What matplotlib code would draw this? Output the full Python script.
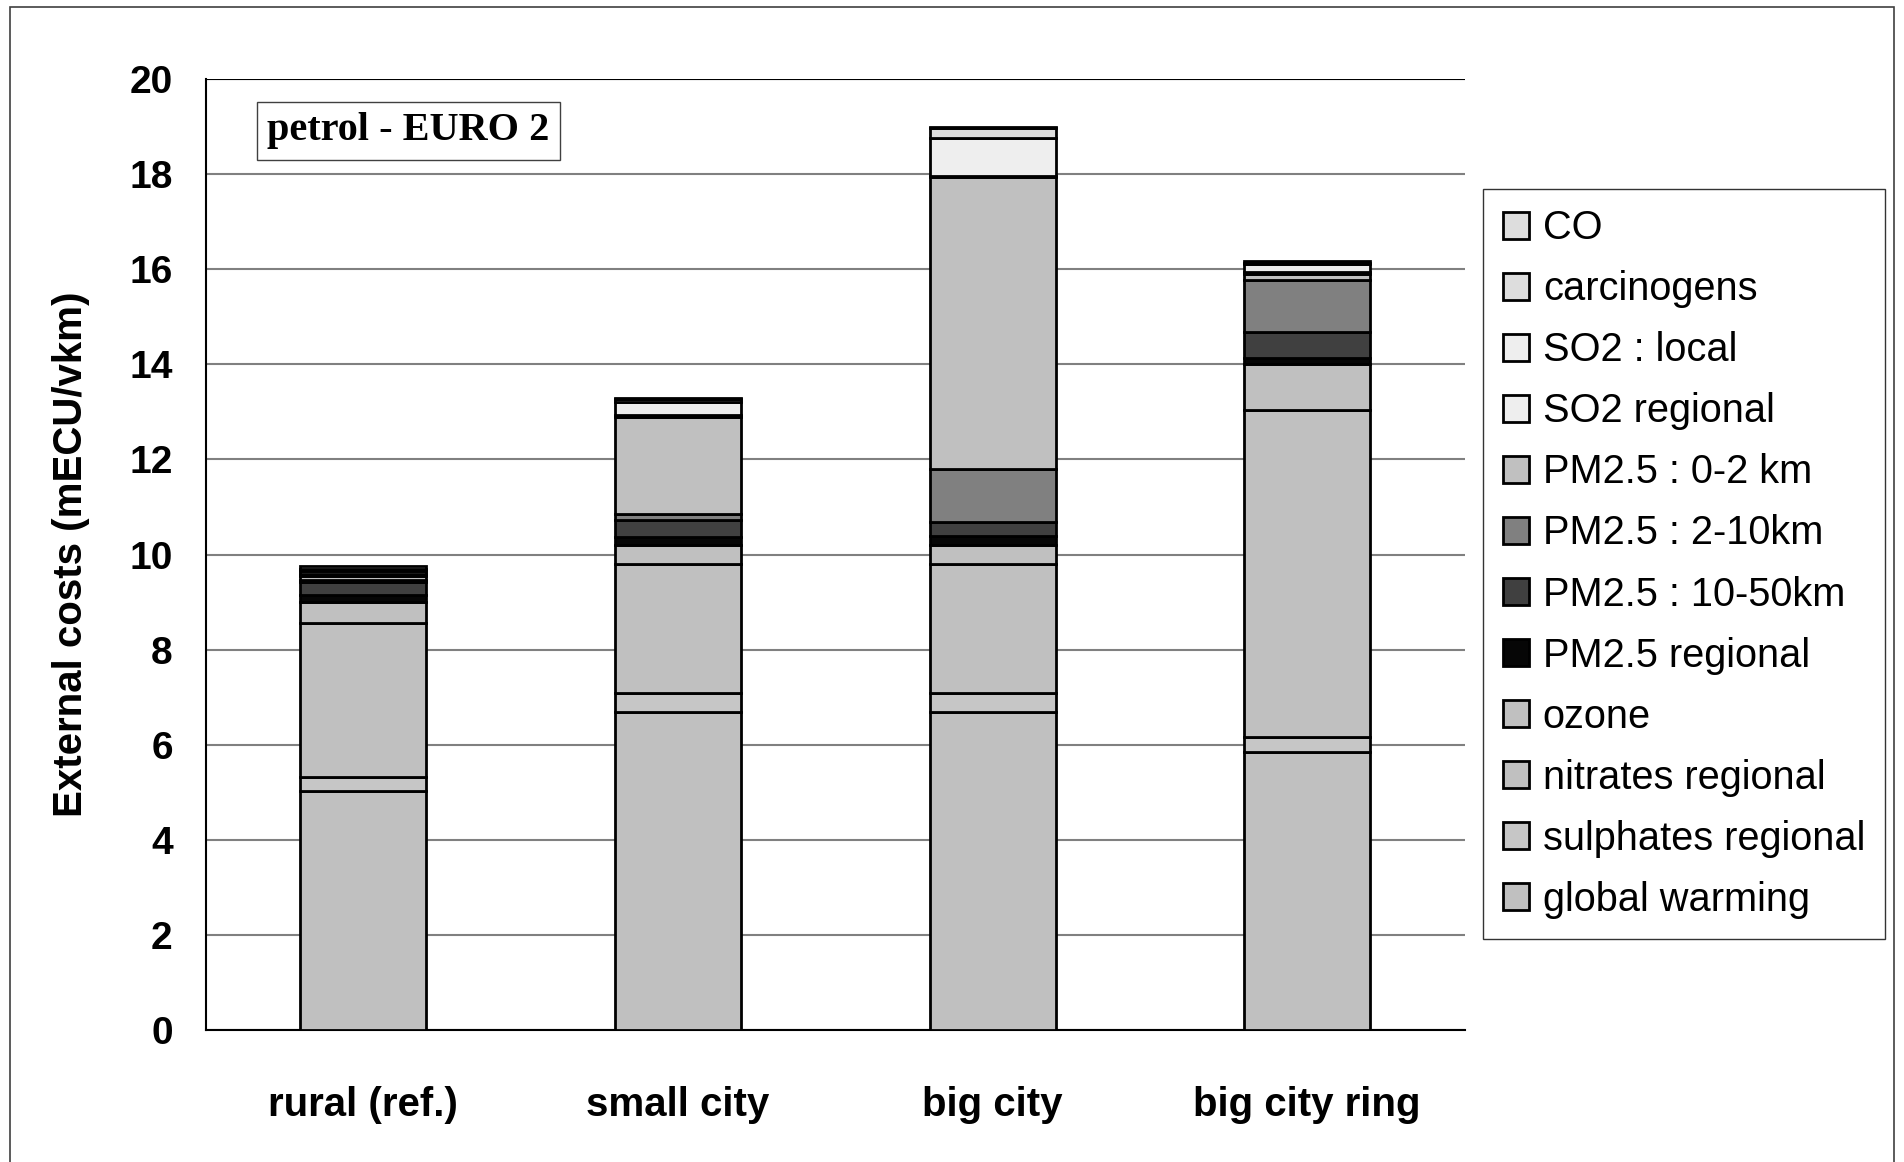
import matplotlib
matplotlib.use("Agg")
import matplotlib.pyplot as plt
from matplotlib.patches import Rectangle
import numpy as np

plt.rcParams['font.family'] = ['Liberation Sans', 'DejaVu Sans']

scenarios = ['rural (ref.)', 'small city', 'big city', 'big city ring']

# bottom to top stacking order
components = ['global warming', 'sulphates regional', 'nitrates regional', 'ozone',
              'PM2.5 regional', 'PM2.5 : 10-50km', 'PM2.5 : 2-10km', 'PM2.5 : 0-2 km',
              'SO2 regional', 'SO2 : local', 'carcinogens', 'CO']

global_warming = [5.03, 6.68, 6.69, 5.84]
sulphates = [0.30, 0.40, 0.40, 0.33]
nitrates = [3.24, 2.72, 2.70, 6.86]
ozone = [0.44, 0.39, 0.40, 0.97]
pm_regional = [0.13, 0.18, 0.20, 0.14]
pm_10_50 = [0.28, 0.36, 0.30, 0.55]
pm_2_10 = [0.05, 0.12, 1.11, 1.08]
pm_0_2 = [0.08, 2.05, 6.13, 0.12]
so2_regional = [0.05, 0.04, 0.03, 0.06]
so2_local = [0.05, 0.27, 0.80, 0.15]
carcinogens = [0.05, 0.05, 0.20, 0.04]
co = [0.05, 0.04, 0.04, 0.04]

series = [global_warming, sulphates, nitrates, ozone, pm_regional, pm_10_50,
          pm_2_10, pm_0_2, so2_regional, so2_local, carcinogens, co]
colors = ['#c0c0c0', '#c6c6c6', '#c0c0c0', '#c0c0c0', '#060606', '#404040',
          '#808080', '#c0c0c0', '#eeeeee', '#eeeeee', '#dddddd', '#dddddd']

fig = plt.figure(figsize=(19.04, 11.62), dpi=100)
ax = fig.add_axes([0.1082, 0.1136, 0.661, 0.8184])

x = np.arange(len(scenarios))
bottom = np.zeros(len(scenarios))
handles = []
for vals, col, name in zip(series, colors, components):
    b = ax.bar(x, vals, width=0.4, bottom=bottom, color=col, edgecolor='black',
               linewidth=2, label=name, zorder=3)
    handles.append(b)
    bottom += np.array(vals)

ax.set_xlim(-0.5, 3.5)
ax.set_ylim(0, 20)
ax.set_yticks(range(0, 21, 2))
ax.yaxis.grid(True, color='#808080', linewidth=1.5, zorder=0)
ax.set_axisbelow(True)
for s in ['top', 'right']:
    ax.spines[s].set_visible(False)
ax.spines['left'].set_linewidth(1.5)
ax.spines['bottom'].set_linewidth(1.5)
ax.axhline(20, color='black', linewidth=1.5, zorder=1)

ax.set_xticks(x)
ax.set_xticklabels(scenarios)
ax.tick_params(axis='y', length=0, labelsize=28, pad=24)
ax.tick_params(axis='x', length=0, labelsize=29, pad=40)
for lab in ax.get_xticklabels() + ax.get_yticklabels():
    lab.set_fontweight('bold')

ax.set_ylabel('External costs (mECU/vkm)', fontsize=29, fontweight='bold', labelpad=28)

leg = fig.legend(handles[::-1], components[::-1], loc='upper left',
                 bbox_to_anchor=(0.779, 0.837), bbox_transform=fig.transFigure,
                 borderaxespad=0, fontsize=28.6, frameon=True, fancybox=False,
                 edgecolor='black', handlelength=0.65, handleheight=0.65,
                 handletextpad=0.35, labelspacing=0.58, borderpad=0.5)
leg.get_frame().set_linewidth(1)

fig.text(0.2146, 0.8873, 'petrol - EURO 2', ha='center', va='center',
         fontsize=29, fontweight='bold', family=['Liberation Serif', 'DejaVu Serif'],
         bbox=dict(boxstyle='square,pad=0.25', facecolor='white', edgecolor='#404040',
                   linewidth=1))

fig.patches.append(Rectangle((10 / 1904, -0.01), 1884 / 1904, 1 - 7 / 1162 + 0.01,
                             transform=fig.transFigure, fill=False,
                             edgecolor='#404040', linewidth=1.2))

fig.savefig('out.png', dpi=100)
